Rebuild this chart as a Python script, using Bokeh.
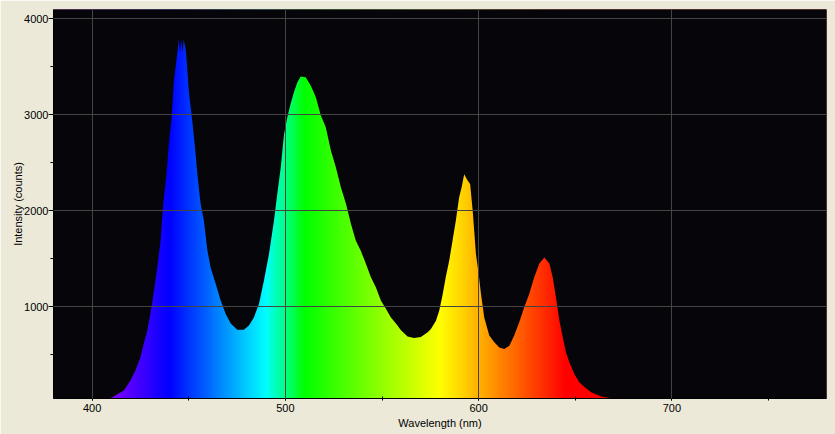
import numpy as np
from bokeh.plotting import figure
from bokeh.models import SingleIntervalTicker, Range1d
from bokeh.embed import file_html
from bokeh.resources import INLINE

# ---- data ----
wavelength_nm = [405, 409.5, 411.2, 413, 416.4, 419.8, 422.4, 425, 426.7, 428.5,
                 431, 433.7, 435.4, 436.8, 438.5, 439.7, 441.1, 442.3, 443.7, 444.9,
                 445.4, 446.1, 446.8, 447.3, 448.3, 448.9, 450, 451.8, 453.2, 454.4,
                 456.1, 457.8, 459.6, 461.3, 463.9, 466.5, 469.1, 471.7, 475.1, 478.5,
                 481.1, 483.7, 486.3, 488.9, 491.5, 494.1, 495.8, 497.6, 499.3, 501,
                 502.7, 504.4, 506.2, 507.9, 510.5, 513.1, 515.7, 518.3, 520.9, 523.5,
                 526.1, 528.7, 531.3, 533.9, 536.4, 539, 541.6, 544.2, 546.8, 549.4,
                 552, 554.6, 557.2, 559.8, 563.2, 566.6, 570.1, 573.6, 575.3, 577.9,
                 579.6, 581.3, 583, 584.8, 586.5, 588.2, 589.9, 591.2, 592.5, 594.3,
                 595.6, 596.9, 598.6, 600, 601.2, 602.9, 605.5, 608.1, 610.7, 613.3,
                 615.9, 618.4, 621, 623.6, 626.2, 628.8, 631.4, 634, 636.6, 638.3,
                 640, 641.8, 643.5, 645.2, 646.9, 649.5, 652.1, 654.7, 658.2, 663.4,
                 668, 674]
intensity_counts = [40, 50, 65, 90, 128, 232, 337, 475, 615, 750,
                    1030, 1410, 1690, 2070, 2385, 2700, 2975, 3355, 3585, 3800,
                    3640, 3780, 3650, 3780, 3700, 3565, 3250, 2940, 2660, 2390,
                    2075, 1900, 1590, 1410, 1240, 1065, 925, 825, 760, 760,
                    805, 890, 1030, 1275, 1550, 1900, 2175, 2455, 2800, 2975,
                    3115, 3235, 3340, 3400, 3390, 3305, 3185, 2995, 2870, 2630,
                    2455, 2245, 2075, 1865, 1690, 1585, 1450, 1310, 1205, 1065,
                    980, 890, 825, 755, 690, 675, 685, 735, 770, 855,
                    960, 1120, 1310, 1485, 1690, 1900, 2140, 2245, 2380, 2315,
                    2280, 2005, 1550, 1345, 1135, 890, 700, 630, 575, 560,
                    595, 700, 840, 995, 1135, 1310, 1450, 1515, 1450, 1310,
                    1100, 855, 685, 525, 425, 300, 215, 165, 110, 65,
                    50, 40]
x_ticks = [400, 500, 600, 700]
y_ticks = [1000, 2000, 3000, 4000]

X_MIN, X_MAX = 380, 780
Y_MIN, Y_MAX = 45, 4097

BG = "#ECE9D8"
PLOT_BG = "#060509"
GRID = "#444444"
FONT = "Liberation Sans"


def wl_rgb(w):
    if w < 440:
        r, g, b = (440 - w) / 60.0, 0.0, 1.0
    elif w < 490:
        r, g, b = 0.0, (w - 440) / 50.0, 1.0
    elif w < 510:
        r, g, b = 0.0, 1.0, (510 - w) / 20.0
    elif w < 580:
        r, g, b = (w - 510) / 70.0, 1.0, 0.0
    elif w < 645:
        r, g, b = 1.0, (645 - w) / 65.0, 0.0
    else:
        r, g, b = 1.0, 0.0, 0.0
    r, g, b = (max(0.0, min(1.0, c)) for c in (r, g, b))
    return int(round(r * 255)), int(round(g * 255)), int(round(b * 255))


p = figure(width=835, height=434, output_backend="svg", toolbar_location=None,
           x_range=Range1d(X_MIN, X_MAX), y_range=Range1d(Y_MIN, Y_MAX),
           min_border_left=53, min_border_right=9, min_border_top=9,
           min_border_bottom=36,
           background_fill_color=PLOT_BG, border_fill_color=BG,
           outline_line_color=None)

# spectral colour strip (style), masked above the measured curve
cols = np.arange(X_MIN, X_MAX, 0.5) + 0.25
img = np.zeros((1, len(cols)), dtype=np.uint32)
view = img.view(dtype=np.uint8).reshape((1, len(cols), 4))
for i, w in enumerate(cols):
    r, g, b = wl_rgb(w)
    view[0, i, 0] = r
    view[0, i, 1] = g
    view[0, i, 2] = b
    view[0, i, 3] = 255
p.image_rgba(image=[img], x=X_MIN, y=Y_MIN, dw=X_MAX - X_MIN, dh=Y_MAX - Y_MIN)

mask_x = [X_MIN - 1, X_MIN - 1] + wavelength_nm + [X_MAX + 1, X_MAX + 1]
mask_y = [Y_MAX + 200, 0] + intensity_counts + [0, Y_MAX + 200]
p.patch(mask_x, mask_y, fill_color=PLOT_BG, line_color=None)

p.xaxis.ticker = SingleIntervalTicker(interval=100, num_minor_ticks=2)
p.yaxis.ticker = SingleIntervalTicker(interval=1000, num_minor_ticks=2)
p.grid.grid_line_color = GRID
p.grid.grid_line_width = 1
p.grid.level = "annotation"

for ax in (p.xaxis[0], p.yaxis[0]):
    ax.axis_line_color = "black"
    ax.major_tick_line_color = "black"
    ax.minor_tick_line_color = "black"
    ax.major_label_text_font = FONT
    ax.major_label_text_font_size = "11px"
    ax.major_label_text_color = "black"
    ax.axis_label_text_font = FONT
    ax.axis_label_text_font_size = "11px"
    ax.axis_label_text_font_style = "normal"
    ax.axis_label_text_color = "black"

p.xaxis.axis_label = "Wavelength (nm)"
p.yaxis.axis_label = "Intensity (counts)"

p.xaxis.major_tick_in = 0
p.xaxis.major_tick_out = 2
p.xaxis.minor_tick_in = 2
p.xaxis.minor_tick_out = 2
p.xaxis.major_label_standoff = 3
p.xaxis.axis_label_standoff = 2

p.yaxis.major_tick_in = 0
p.yaxis.major_tick_out = 5
p.yaxis.minor_tick_in = 0
p.yaxis.minor_tick_out = 3
p.yaxis.major_label_standoff = 0
p.yaxis.axis_label_standoff = -3

open("out.html", "w").write(file_html(p, INLINE))
